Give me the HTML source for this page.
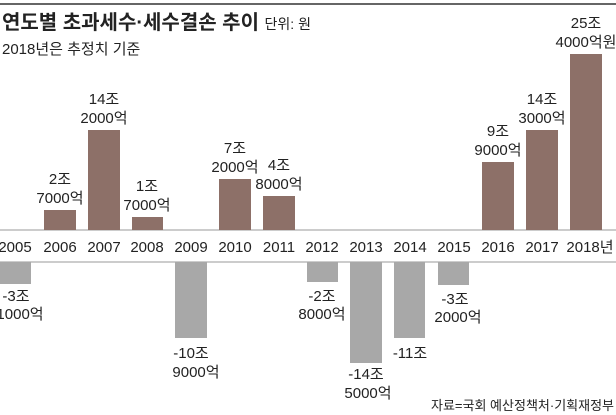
<!DOCTYPE html>
<html><head><meta charset="utf-8"><style>
html,body{margin:0;padding:0;background:#fff;}
svg{display:block;}
text{font-family:"Liberation Sans Narrow","Liberation Sans","Noto Sans CJK KR",sans-serif;fill:#222;}
</style></head><body>
<svg width="616" height="415" viewBox="0 0 616 415">
<line x1="0" y1="4" x2="616" y2="4" stroke="#333" stroke-width="1.5"/>
<text x="2" y="29" font-size="20" font-weight="bold" style="font-family:'Liberation Sans','Noto Sans CJK KR',sans-serif">연도별 초과세수·세수결손 추이 <tspan font-size="14" font-weight="normal">단위: 원</tspan></text>
<text x="2" y="54" font-size="15" style="font-family:'Liberation Sans','Noto Sans CJK KR',sans-serif" fill="#333">2018년은 추정치 기준</text>
<line x1="0" y1="230" x2="616" y2="230" stroke="#999" stroke-width="1"/>
<line x1="0" y1="262" x2="616" y2="262" stroke="#999" stroke-width="1"/>
<g fill="#8d7068">
<rect x="44" y="210" width="32" height="20"/>
<rect x="88" y="130" width="32" height="100"/>
<rect x="132" y="217" width="31" height="13"/>
<rect x="219" y="179" width="32" height="51"/>
<rect x="263" y="196" width="32" height="34"/>
<rect x="482" y="162" width="32" height="68"/>
<rect x="526" y="130" width="32" height="100"/>
<rect x="570" y="54" width="32" height="176"/>
</g>
<g fill="#a8a8a8">
<rect x="0" y="262" width="31" height="22"/>
<rect x="175" y="262" width="32" height="76"/>
<rect x="307" y="262" width="31" height="20"/>
<rect x="350" y="262" width="32" height="101"/>
<rect x="394" y="262" width="31" height="76"/>
<rect x="438" y="262" width="31" height="23"/>
</g>
<g font-size="15" text-anchor="middle">
<text x="15" y="252">2005</text><text x="60" y="252">2006</text><text x="104" y="252">2007</text>
<text x="147" y="252">2008</text><text x="191" y="252">2009</text><text x="235" y="252">2010</text>
<text x="279" y="252">2011</text><text x="322" y="252">2012</text><text x="366" y="252">2013</text>
<text x="410" y="252">2014</text><text x="454" y="252">2015</text><text x="498" y="252">2016</text>
<text x="542" y="252">2017</text><text x="590" y="252">2018년</text>
</g>
<g font-size="15" text-anchor="middle">
<text x="60" y="184">2조</text><text x="60" y="203">7000억</text>
<text x="104" y="104">14조</text><text x="104" y="123">2000억</text>
<text x="147" y="191">1조</text><text x="147" y="210">7000억</text>
<text x="235" y="153">7조</text><text x="235" y="172">2000억</text>
<text x="279" y="170">4조</text><text x="279" y="189">8000억</text>
<text x="498" y="136">9조</text><text x="498" y="155">9000억</text>
<text x="542" y="104">14조</text><text x="542" y="123">3000억</text>
<text x="586" y="28">25조</text><text x="586" y="47">4000억원</text>
<text x="16" y="301">-3조</text><text x="20" y="319">1000억</text>
<text x="191" y="358">-10조</text><text x="196" y="377">9000억</text>
<text x="322" y="301">-2조</text><text x="322" y="319">8000억</text>
<text x="366" y="379">-14조</text><text x="368" y="398">5000억</text>
<text x="410" y="358">-11조</text>
<text x="455" y="304">-3조</text><text x="458" y="322">2000억</text>
</g>
<text x="614" y="410" font-size="13" text-anchor="end" fill="#333" style="font-family:'Liberation Sans','Noto Sans CJK KR',sans-serif">자료=국회 예산정책처·기획재정부</text>
</svg>
</body></html>
